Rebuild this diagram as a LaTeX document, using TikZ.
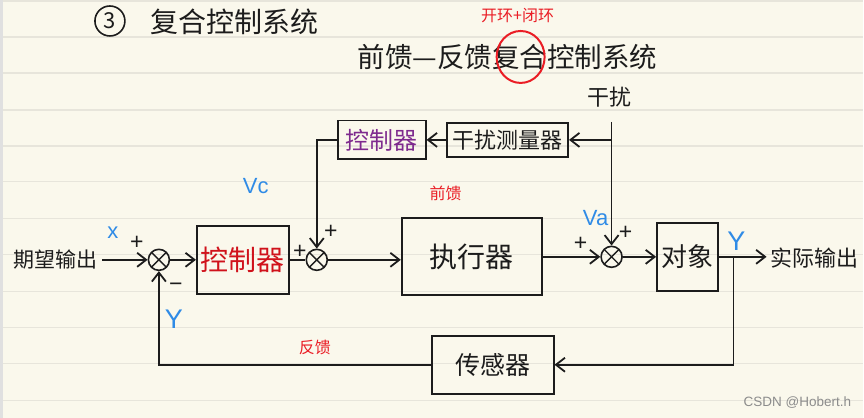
\documentclass[tikz,border=0pt]{standalone}
\usepackage{fontspec}
\setmainfont{Noto Sans CJK SC}
\newfontfamily\latinhand{Liberation Sans}
\usetikzlibrary{arrows.meta}
\definecolor{paper}{HTML}{FAF8EC}
\definecolor{rulegrey}{HTML}{E7E5DB}
\definecolor{ink}{HTML}{1C1C1C}
\definecolor{noteblue}{HTML}{2F8BE6}
\definecolor{notered}{HTML}{EA1D25}
\definecolor{boxred}{HTML}{D0121B}
\definecolor{boxpurple}{HTML}{7E2A8E}
\definecolor{wmgrey}{HTML}{8C8C8C}

\begin{document}
\begin{tikzpicture}[x=1pt,y=-1pt,color=ink,line width=1.8pt,
  >={Straight Barb[length=9pt,width=14pt]},
  blk/.style={draw,line width=1.8pt,inner sep=0pt},
  sum/.style={circle,draw,line width=1.6pt,minimum size=21pt,inner sep=0pt,
    path picture={\draw[line width=1.4pt]
      (path picture bounding box.north west) -- (path picture bounding box.south east)
      (path picture bounding box.south west) -- (path picture bounding box.north east);}},
  sgn/.style={font=\latinhand\fontsize{23}{23}\selectfont},
  lbl/.style={text=noteblue,font=\latinhand\fontsize{22}{22}\selectfont},
  note/.style={text=notered,font=\fontsize{16}{16}\selectfont}]
% paper
\fill[paper] (0,0) rectangle (864,418);
\fill[black!12] (0,0) rectangle (3,418);
\foreach \y in {1,37,73,110,146,182,219,255,292,328,364,401}
  \draw[rulegrey,line width=1.2pt] (3,\y) -- (864,\y);
\useasboundingbox (0,0) rectangle (864,418);

% headings
\node (three) at (110,21) [circle,draw,line width=1.6pt,minimum size=30pt,inner sep=0pt,font=\fontsize{22}{22}\selectfont] {3};
\node (title) at (150,22) [anchor=west,inner sep=0pt,font=\fontsize{28}{28}\selectfont] {复合控制系统};
\node (sub) at (357,57) [anchor=west,inner sep=0pt,font=\fontsize{27.5}{28}\selectfont] {前馈—反馈复合控制系统};
\draw[notered,line width=2pt] (521,57) ellipse [x radius=24pt,y radius=26pt];
\node (ol) at (518,16) [note] {开环+闭环};

% blocks
\node (dist) at (610,97) [font=\fontsize{22}{22}\selectfont] {干扰};
\coordinate (dtop) at (612,122);
\coordinate (dbr) at (612,140);
\node (meas) at (508,140) [blk,minimum width=121pt,minimum height=34pt,font=\fontsize{22}{22}\selectfont] {干扰测量器};
\node (ff) at (382,140) [blk,minimum width=88pt,minimum height=39pt,text=boxpurple,font=\fontsize{24}{24}\selectfont] {控制器};
\node (xin) at (56,260) [font=\fontsize{21}{21}\selectfont] {期望输出};
\node (s1) at (159,260) [sum] {};
\node (ctrl) at (243,260) [blk,minimum width=92pt,minimum height=68pt,text=boxred,font=\fontsize{28}{28}\selectfont] {控制器};
\node (s2) at (317,260) [sum] {};
\node (act) at (472,257) [blk,minimum width=140pt,minimum height=77pt,font=\fontsize{28}{28}\selectfont] {执行器};
\node (s3) at (612,257) [sum] {};
\node (plant) at (688,257) [blk,minimum width=61pt,minimum height=68pt,font=\fontsize{26}{26}\selectfont] {对象};
\node (yout) at (815,258) [inner sep=3pt,font=\fontsize{22}{22}\selectfont] {实际输出};
\coordinate (yb) at (734,257);
\node (sens) at (493,365) [blk,minimum width=122pt,minimum height=58pt,font=\fontsize{25}{25}\selectfont] {传感器};

% connectors
\draw [->] (dtop) -- (s3);
\draw [->] (dbr) -- (meas);
\draw [->] (meas) -- (ff);
\draw [->] (ff) -| (s2);
\draw [->] (xin) -- (s1);
\draw [->] (s1) -- (ctrl);
\draw (ctrl) -- (s2);
\draw [->] (s2) -- (s2 -| act.west);
\draw [->] (act) -- (s3);
\draw [->] (s3) -- (plant);
\draw [->] (plant.east) -- (plant.east -| yout.west);
\draw [->] (yb) |- (sens);
\draw [->] (sens) -| (s1);

% signs and notes
\node (lx) at (113,233) [lbl] {x};
\node (py1) at (137,243) [sgn] {+};
\node (ny1) at (176,287) [sgn] {−};
\node (ly1) at (174,319) [lbl,font=\latinhand\fontsize{27}{27}\selectfont] {Y};
\node (lvc) at (256,186) [lbl] {Vc};
\node (pc) at (331,232) [sgn] {+};
\node (pa) at (300,252) [sgn] {+};
\node (lva) at (596,218) [lbl] {Va};
\node (pd) at (581,244) [sgn] {+};
\node (pe) at (626,233) [sgn] {+};
\node (ly2) at (737,241) [lbl,font=\latinhand\fontsize{27}{27}\selectfont] {Y};
\node (nff) at (446,194) [note] {前馈};
\node (nfb) at (315,348) [note] {反馈};
\node (wm) at (798,403) [text=wmgrey,font=\latinhand\fontsize{13.5}{14}\selectfont] {CSDN @Hobert.h};
\end{tikzpicture}
\end{document}
